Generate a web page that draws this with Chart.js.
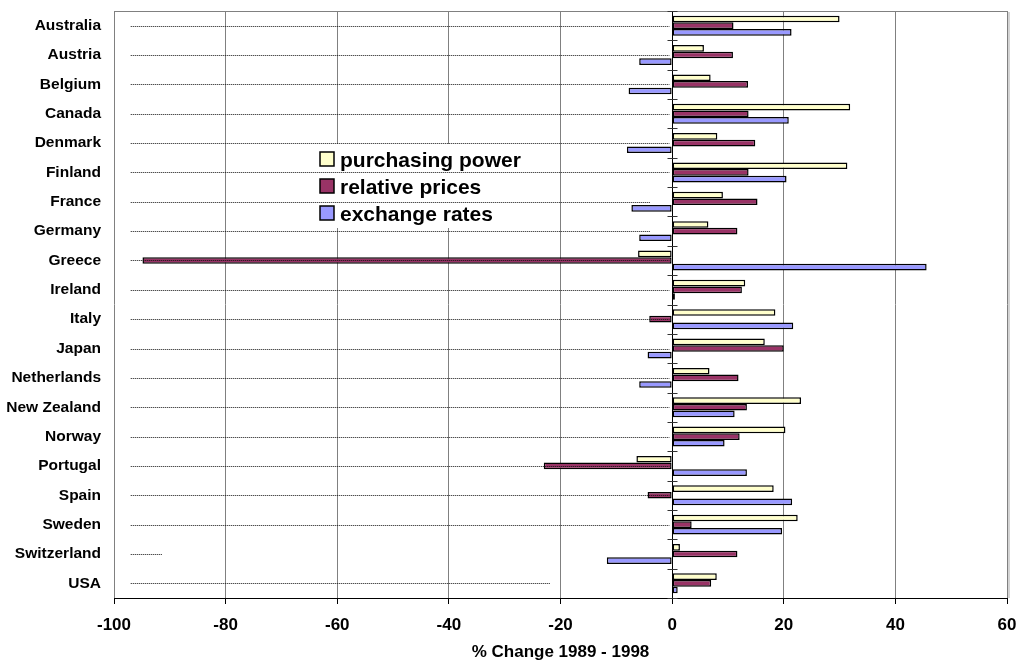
<!DOCTYPE html>
<html>
<head>
<meta charset="utf-8">
<title>% Change 1989 - 1998</title>
<script src="https://cdn.jsdelivr.net/npm/chart.js@4/dist/chart.umd.min.js"></script>
<style>
  html, body { margin: 0; padding: 0; background: #fff; }
  canvas { display: block; }
</style>
</head>
<body>
<canvas id="chart" width="1018" height="663"></canvas>
<script>
// Countries, top to bottom
const countries = ['Australia', 'Austria', 'Belgium', 'Canada', 'Denmark', 'Finland', 'France',
  'Germany', 'Greece', 'Ireland', 'Italy', 'Japan', 'Netherlands', 'New Zealand', 'Norway',
  'Portugal', 'Spain', 'Sweden', 'Switzerland', 'USA'];

// % change 1989 - 1998 for each component
const purchasingPower = [30.0, 5.7, 6.9, 31.9, 8.1, 31.4, 9.1, 6.5, -6.1, 13.1,
  18.5, 16.6, 6.7, 23.1, 20.3, -6.4, 18.2, 22.5, 1.4, 8.0];
const relativePrices = [11.0, 10.9, 13.6, 13.7, 14.9, 13.7, 15.3, 11.7, -94.9, 12.5,
  -4.1, 20.0, 11.9, 13.4, 12.1, -23.0, -4.4, 3.5, 11.7, 7.0];
const exchangeRates = [21.4, -5.9, -7.8, 20.9, -8.1, 20.5, -7.3, -5.9, 45.6, 0.5,
  21.7, -4.4, -5.9, 11.2, 9.4, 13.4, 21.5, 19.7, -11.7, 1.0];

// Series names
const seriesNames = ['purchasing power', 'relative prices', 'exchange rates'];

// Dotted row guides: where each one starts and stops on the value axis
const guideStart = -97;
const guideEnds = [-0.5, -0.5, -0.5, -0.5, -0.5, -0.5, -4, -4, -0.5, -0.5,
  -0.5, -0.5, -0.5, -0.5, -0.5, -0.5, -0.5, -0.5, -91.4, -21.8];

// Value axis range and step
const xMin = -100, xMax = 60, xStep = 20;

const FONT = "'Liberation Sans', Arial, Helvetica, sans-serif";

// Top frame edge, shadow on the right, dotted row guides and the category ticks on the zero line
const framePlugin = {
  id: 'frame',
  afterDatasetsDraw(chart) {
    const { ctx, chartArea: a, scales: { x, y } } = chart;
    ctx.save();
    // top edge
    ctx.strokeStyle = '#808080';
    ctx.lineWidth = 1;
    ctx.beginPath();
    ctx.moveTo(a.left, Math.round(a.top) + 0.5);
    ctx.lineTo(a.right, Math.round(a.top) + 0.5);
    ctx.stroke();
    // soft shadow on the right edge
    ctx.strokeStyle = '#d4d4d4';
    ctx.lineWidth = 2;
    ctx.beginPath();
    ctx.moveTo(a.right + 2, a.top + 1);
    ctx.lineTo(a.right + 2, a.bottom);
    ctx.stroke();

    // dotted guides
    ctx.strokeStyle = '#111';
    ctx.lineWidth = 1;
    ctx.setLineDash([1, 1]);
    countries.forEach((c, i) => {
      const py = Math.round(y.getPixelForValue(i)) + 0.5;
      ctx.beginPath();
      ctx.moveTo(x.getPixelForValue(guideStart), py);
      ctx.lineTo(x.getPixelForValue(guideEnds[i]), py);
      ctx.stroke();
    });
    ctx.setLineDash([]);

    // zero line with category separator ticks
    const x0 = Math.round(x.getPixelForValue(0)) + 0.5;
    ctx.strokeStyle = '#000';
    ctx.lineWidth = 1;
    ctx.beginPath();
    ctx.moveTo(x0, a.top);
    ctx.lineTo(x0, a.bottom);
    ctx.stroke();
    const n = countries.length;
    const bounds = [];
    for (let i = 0; i <= n; i++) {
      if (i === 0) bounds.push(a.top);
      else if (i === n) bounds.push(a.bottom);
      else bounds.push((y.getPixelForValue(i - 1) + y.getPixelForValue(i)) / 2);
    }
    ctx.strokeStyle = '#333';
    bounds.forEach(b => {
      const py = Math.round(b) + 0.5;
      ctx.beginPath();
      ctx.moveTo(x0 - 5, py);
      ctx.lineTo(x0 + 5, py);
      ctx.stroke();
    });
    ctx.restore();
  }
};

// Legend drawn inside the plot, on a white panel
const insideLegend = {
  id: 'insideLegend',
  beforeDatasetsDraw(chart) {
    const { ctx, chartArea: a } = chart;
    const left = a.left + 206;
    const top = a.top + 141;
    ctx.save();
    ctx.fillStyle = '#fff';
    ctx.fillRect(left - 8, top - 8, 225, 84);
    chart.data.datasets.forEach((ds, i) => {
      const by = top + i * 27;
      ctx.fillStyle = ds.backgroundColor;
      ctx.fillRect(left, by, 14, 14);
      ctx.strokeStyle = '#000';
      ctx.lineWidth = 1.5;
      ctx.strokeRect(left, by, 14, 14);
      ctx.fillStyle = '#000';
      ctx.font = 'bold 21px ' + FONT;
      ctx.textBaseline = 'alphabetic';
      ctx.textAlign = 'left';
      ctx.fillText(ds.label, left + 20, by + 14.5);
    });
    ctx.restore();
  }
};

// Axes here carry their own fixed sizes; drop the extra edge room the labels ask for
function noEdgePadding(scale) {
  scale.paddingLeft = 0;
  scale.paddingRight = 0;
  scale.paddingTop = 0;
  scale.paddingBottom = 0;
}

const barStyle = { borderColor: '#000', borderWidth: 1.5, borderSkipped: false,
  categoryPercentage: 0.68, barPercentage: 1.0 };

new Chart(document.getElementById('chart'), {
  type: 'bar',
  data: {
    labels: countries,
    datasets: [
      Object.assign({ label: seriesNames[0], data: purchasingPower, backgroundColor: '#FFFFCC' }, barStyle),
      Object.assign({ label: seriesNames[1], data: relativePrices, backgroundColor: '#993366' }, barStyle),
      Object.assign({ label: seriesNames[2], data: exchangeRates, backgroundColor: '#9999FF' }, barStyle)
    ]
  },
  options: {
    indexAxis: 'y',
    responsive: false,
    animation: false,
    devicePixelRatio: 1,
    layout: { padding: { left: 0, right: 11, top: 11, bottom: 0 } },
    plugins: {
      legend: { display: false },
      tooltip: { enabled: false }
    },
    scales: {
      x: {
        type: 'linear',
        min: xMin,
        max: xMax,
        ticks: {
          stepSize: xStep,
          color: '#000',
          font: { family: FONT, size: 17, weight: 'bold' },
          padding: 11
        },
        grid: {
          color: ctx => (ctx.tick && ctx.tick.value === 0) ? '#000' : '#808080',
          lineWidth: 1,
          drawTicks: true,
          tickLength: 6,
          tickColor: '#000'
        },
        border: { display: true, color: '#000', width: 1 },
        title: {
          display: true,
          text: '% Change 1989 - 1998',
          color: '#000',
          font: { family: FONT, size: 17, weight: 'bold' },
          padding: { top: 0, bottom: 0 }
        },
        afterFit(scale) { scale.height = 65; noEdgePadding(scale); }
      },
      y: {
        type: 'category',
        position: 'left',
        grid: { display: false, drawTicks: false },
        border: { display: false },
        ticks: {
          color: '#000',
          font: { family: FONT, size: 15.5, weight: 'bold' },
          padding: 13,
          autoSkip: false
        },
        afterFit(scale) { scale.width = 114; noEdgePadding(scale); }
      }
    }
  },
  plugins: [insideLegend, framePlugin]
});
</script>
</body>
</html>
